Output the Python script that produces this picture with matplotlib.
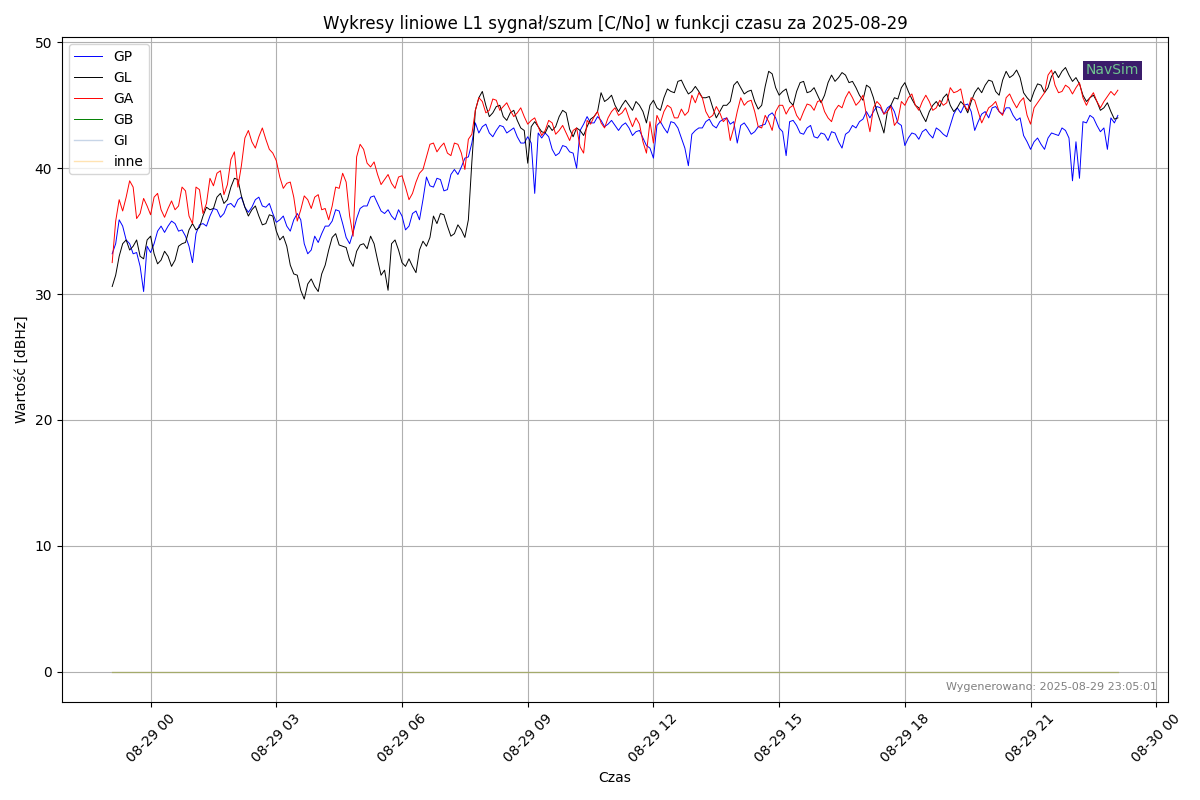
import pandas as pd
import matplotlib
matplotlib.use('Agg')
import matplotlib.pyplot as plt
import matplotlib.dates as mdates

# odczyty co 10 min (od 2025-08-28 23:05) + wartosci posrednie (co 5 min)
ga_10 = [32.5, 37.5, 37.7, 38.5, 36.4, 37.0,
         37.7, 36.7, 36.8, 36.7, 38.5, 36.2,
         38.5, 36.4, 39.2, 39.6, 37.9, 40.7,
         38.5, 42.4, 42.1, 42.5, 42.3, 41.2,
         39.3, 38.8, 37.7, 36.7, 37.5, 37.7,
         36.7, 35.9, 38.5, 39.6, 36.2, 40.9,
         41.5, 40.1, 39.5, 39.1, 38.8, 39.3,
         38.5, 38.0, 39.6, 40.9, 42.0, 41.7,
         41.2, 42.0, 41.2, 42.3, 44.6, 45.3,
         44.6, 45.4, 44.9, 44.6, 44.4, 44.1,
         43.8, 43.3, 43.0, 43.6, 43.0, 42.8,
         43.0, 41.7, 43.8, 44.1, 43.6, 44.0,
         44.8, 44.4, 44.0, 44.0, 42.1, 43.7,
         44.2, 44.5, 44.8, 44.0, 44.2, 45.8,
         46.0, 44.5, 44.2, 44.4, 44.0, 43.2,
         45.6, 45.3, 44.5, 43.2, 43.7, 44.5,
         45.0, 44.8, 44.2, 44.5, 45.0, 45.3,
         44.5, 43.7, 45.0, 45.6, 45.6, 45.3,
         44.2, 44.8, 45.0, 44.5, 43.4, 45.3,
         45.6, 45.0, 45.3, 45.3, 44.8, 45.0,
         46.4, 46.1, 45.0, 45.6, 44.5, 44.2,
         45.0, 44.5, 45.6, 45.3, 45.3, 44.2,
         44.8, 45.6, 47.4, 46.6, 46.1, 46.4,
         46.4, 45.6, 45.6, 45.3, 45.3, 46.1,
         46.2]
ga_mid = [35.8, 36.6, 39.0, 36.0, 37.6, 36.3,
          38.0, 36.1, 37.4, 37.0, 38.2, 35.6,
          38.3, 37.2, 38.6, 39.8, 38.7, 41.3,
          40.2, 43.0, 41.6, 43.2, 41.5, 40.6,
          38.4, 38.9, 35.8, 37.8, 36.8, 37.9,
          36.8, 37.0, 38.4, 38.9, 34.6, 41.9,
          40.4, 40.5, 38.7, 39.5, 38.4, 39.4,
          37.5, 38.9, 39.9, 41.9, 41.3, 42.0,
          41.0, 41.9, 39.9, 42.7, 45.6, 44.4,
          45.5, 44.6, 45.2, 44.1, 44.8, 43.5,
          44.0, 42.6, 43.8, 42.7, 43.4, 42.2,
          43.2, 41.2, 43.5, 44.5, 43.2, 44.5,
          44.2, 44.8, 43.3, 43.5, 41.2, 42.0,
          43.6, 45.0, 44.0, 44.7, 44.5, 45.2,
          45.6, 44.0, 44.9, 43.7, 42.2, 44.5,
          45.0, 45.4, 43.3, 44.2, 43.0, 45.0,
          44.3, 45.0, 43.8, 45.1, 44.6, 45.4,
          44.0, 44.6, 44.8, 46.1, 45.0, 45.8,
          42.9, 45.3, 44.3, 44.9, 43.8, 45.0,
          45.9, 44.6, 45.8, 44.6, 45.4, 45.2,
          46.0, 46.3, 44.6, 45.4, 43.6, 44.8,
          45.3, 44.2, 45.9, 44.8, 45.6, 43.5,
          45.2, 46.0, 47.8, 46.0, 46.6, 45.9,
          46.8, 45.0, 46.0, 44.8, 45.7, 45.8]

gl_10 = [30.6, 33.0, 34.3, 33.8, 33.0, 34.3,
         33.2, 32.7, 33.0, 32.7, 34.0, 35.1,
         35.1, 36.2, 36.7, 37.7, 37.2, 38.5,
         39.1, 36.9, 36.7, 36.2, 35.6, 36.2,
         34.3, 33.8, 31.6, 30.3, 30.8, 30.6,
         31.6, 33.5, 34.8, 33.8, 32.7, 33.4,
         34.0, 34.6, 32.7, 31.9, 34.0, 33.5,
         32.2, 32.2, 33.5, 33.8, 36.2, 36.4,
         35.4, 34.8, 35.1, 35.9, 44.6, 46.1,
         44.1, 44.9, 44.1, 44.4, 43.8, 43.0,
         43.3, 43.3, 42.8, 43.0, 44.1, 44.4,
         42.5, 43.0, 43.3, 44.1, 46.0, 45.5,
         45.0, 45.0, 45.0, 45.3, 44.5, 45.0,
         44.8, 45.6, 46.1, 46.9, 46.4, 46.1,
         46.1, 45.6, 44.8, 44.5, 45.0, 46.6,
         46.4, 46.1, 45.3, 45.0, 47.7, 46.4,
         46.1, 45.3, 46.1, 46.9, 46.1, 45.8,
         45.8, 47.4, 47.2, 47.4, 46.9, 45.8,
         46.6, 45.6, 43.7, 44.5, 45.6, 46.4,
         46.1, 45.0, 44.2, 44.5, 45.3, 45.6,
         45.0, 44.8, 45.0, 45.3, 46.4, 46.6,
         46.9, 45.8, 47.7, 47.4, 47.2, 45.6,
         46.1, 46.6, 46.4, 47.7, 47.7, 47.4,
         47.2, 45.8, 45.6, 45.3, 44.8, 44.5,
         44.0]
gl_mid = [31.5, 34.0, 33.5, 34.3, 32.8, 34.6,
          32.4, 33.4, 32.2, 33.8, 34.1, 35.6,
          35.3, 36.9, 36.8, 38.0, 37.5, 39.2,
          37.8, 36.2, 37.0, 35.5, 36.3, 35.0,
          34.6, 32.3, 31.5, 29.6, 31.2, 30.2,
          32.3, 34.5, 33.9, 33.7, 32.2, 33.9,
          33.6, 34.0, 31.5, 30.3, 34.3, 32.5,
          32.8, 31.7, 34.2, 34.5, 35.6, 36.3,
          34.6, 35.5, 34.5, 40.5, 45.6, 45.0,
          44.4, 45.0, 43.8, 44.6, 43.2, 40.4,
          43.7, 42.9, 43.4, 43.3, 44.6, 43.1,
          43.2, 42.6, 43.9, 44.5, 45.3, 45.8,
          44.5, 45.4, 44.6, 45.0, 43.6, 45.4,
          44.6, 46.3, 46.0, 47.0, 45.9, 46.5,
          45.6, 45.7, 44.0, 45.0, 45.3, 46.9,
          45.9, 46.2, 44.7, 46.5, 47.5, 45.8,
          46.3, 45.0, 46.8, 46.0, 46.4, 45.2,
          46.8, 46.9, 47.6, 46.8, 46.4, 45.4,
          46.4, 44.5, 42.8, 45.0, 45.5, 46.8,
          45.5, 44.8, 43.7, 45.0, 44.9, 45.9,
          44.5, 45.3, 44.4, 46.0, 46.0, 47.0,
          46.1, 47.0, 47.2, 47.8, 46.0, 45.3,
          46.7, 46.0, 47.3, 47.2, 48.0, 46.9,
          46.7, 45.3, 45.8, 44.6, 45.2, 43.9]

gp_10 = [33.2, 35.9, 34.3, 33.2, 32.2, 33.8,
         34.0, 35.4, 35.4, 35.6, 35.1, 33.8,
         34.8, 35.6, 36.2, 36.7, 36.4, 37.2,
         37.5, 36.9, 36.9, 37.7, 36.9, 36.4,
         35.9, 35.4, 35.9, 35.9, 33.2, 34.6,
         34.8, 35.4, 36.7, 35.6, 34.0, 36.0,
         37.0, 37.7, 37.2, 36.4, 36.2, 36.7,
         35.1, 36.4, 35.9, 39.3, 38.5, 39.1,
         38.3, 39.9, 40.1, 40.9, 43.6, 43.3,
         42.8, 43.0, 43.3, 43.0, 42.5, 42.0,
         42.0, 42.8, 42.8, 41.5, 41.2, 41.7,
         41.2, 43.0, 44.1, 43.6, 43.8, 43.5,
         43.4, 43.4, 43.2, 42.9, 42.4, 41.6,
         43.4, 43.2, 43.7, 43.2, 41.6, 42.7,
         43.2, 43.7, 43.4, 43.7, 44.0, 43.7,
         43.4, 43.2, 42.9, 43.4, 44.2, 44.0,
         42.9, 43.7, 43.4, 42.7, 43.4, 42.4,
         42.7, 42.9, 42.1, 42.7, 43.4, 43.7,
         44.5, 44.5, 44.8, 44.8, 44.5, 43.4,
         42.4, 42.7, 42.9, 42.7, 43.2, 42.7,
         43.4, 44.8, 45.0, 44.5, 43.7, 44.5,
         44.8, 44.5, 44.8, 44.2, 44.0, 42.1,
         42.1, 41.9, 42.4, 42.7, 43.2, 42.4,
         42.1, 43.7, 44.2, 43.4, 43.2, 44.0,
         44.2]
gp_mid = [34.0, 35.4, 34.0, 33.3, 30.2, 33.3,
          35.0, 34.9, 35.8, 35.0, 34.6, 32.5,
          35.5, 35.4, 36.8, 36.1, 37.1, 36.9,
          37.7, 36.5, 37.5, 37.0, 37.2, 35.7,
          36.2, 35.0, 36.4, 34.0, 33.5, 34.1,
          35.4, 35.8, 36.6, 34.5, 34.9, 36.8,
          37.0, 37.8, 36.6, 36.7, 35.9, 36.2,
          35.4, 36.6, 37.5, 38.6, 39.2, 38.2,
          39.5, 39.5, 40.8, 42.0, 42.8, 43.5,
          42.5, 43.4, 42.8, 43.2, 42.0, 42.5,
          38.0, 42.4, 42.5, 41.0, 41.8, 41.3,
          40.0, 43.5, 43.6, 44.1, 43.3, 43.8,
          43.0, 43.6, 42.6, 43.0, 41.8, 40.8,
          43.7, 42.8, 43.6, 42.4, 40.2, 43.0,
          43.2, 43.9, 43.2, 43.9, 43.5, 42.0,
          43.6, 42.7, 43.3, 43.5, 44.4, 43.2,
          41.0, 43.8, 42.8, 43.2, 42.5, 42.8,
          42.2, 42.8, 41.6, 42.9, 43.2, 43.9,
          44.0, 44.9, 44.3, 45.0, 43.6, 41.8,
          42.8, 42.3, 43.1, 42.4, 43.0, 42.5,
          44.3, 44.4, 45.1, 43.0, 44.3, 44.0,
          44.9, 44.3, 44.8, 43.8, 42.6, 41.5,
          42.4, 41.5, 42.8, 42.6, 43.0, 39.0,
          39.2, 43.6, 44.0, 42.9, 41.5, 43.6]


def interleave(levels, mids):
    out = []
    for a, m in zip(levels, mids):
        out += [a, m]
    out.append(levels[-1])
    return out


gp = interleave(gp_10, gp_mid)
gl = interleave(gl_10, gl_mid)
ga = interleave(ga_10, ga_mid)
times = pd.date_range('2025-08-28 23:05', periods=len(gp), freq='5min')
zero = [0.0] * len(times)  # GB, GI, inne - brak danych

fig, ax = plt.subplots(figsize=(12, 8), dpi=100)
ax.plot(times, gp, color='blue', lw=0.7, label='GP')
ax.plot(times, gl, color='black', lw=0.7, label='GL')
ax.plot(times, ga, color='red', lw=0.7, label='GA')
ax.plot(times, zero, color='green', lw=0.7, label='GB')
ax.plot(times, zero, color='lightsteelblue', lw=1.0, alpha=0.7, label='GI')
ax.plot(times, zero, color='orange', lw=1.0, alpha=0.3, label='inne')

ax.set_title('Wykresy liniowe L1 sygnał/szum [C/No] w funkcji czasu za 2025-08-29')
ax.set_xlabel('Czas')
ax.set_ylabel('Wartość [dBHz]')
ax.xaxis.set_major_locator(mdates.HourLocator(byhour=range(0, 24, 3)))
ax.xaxis.set_major_formatter(mdates.DateFormatter('%m-%d %H'))
plt.setp(ax.get_xticklabels(), rotation=45)
ax.grid(True)
ax.legend(loc='upper left')
ax.text(0.99, 0.015, 'Wygenerowano: 2025-08-29 23:05:01', transform=ax.transAxes,
        ha='right', va='bottom', fontsize=8, color='gray')
fig.text(0.927, 0.912, 'NavSim', ha='center', va='center', fontsize=10, color='#6fc48f',
         bbox=dict(boxstyle='square,pad=0.2', facecolor='#3b1d6b', edgecolor='none'))

plt.tight_layout()
plt.savefig('out.png')
